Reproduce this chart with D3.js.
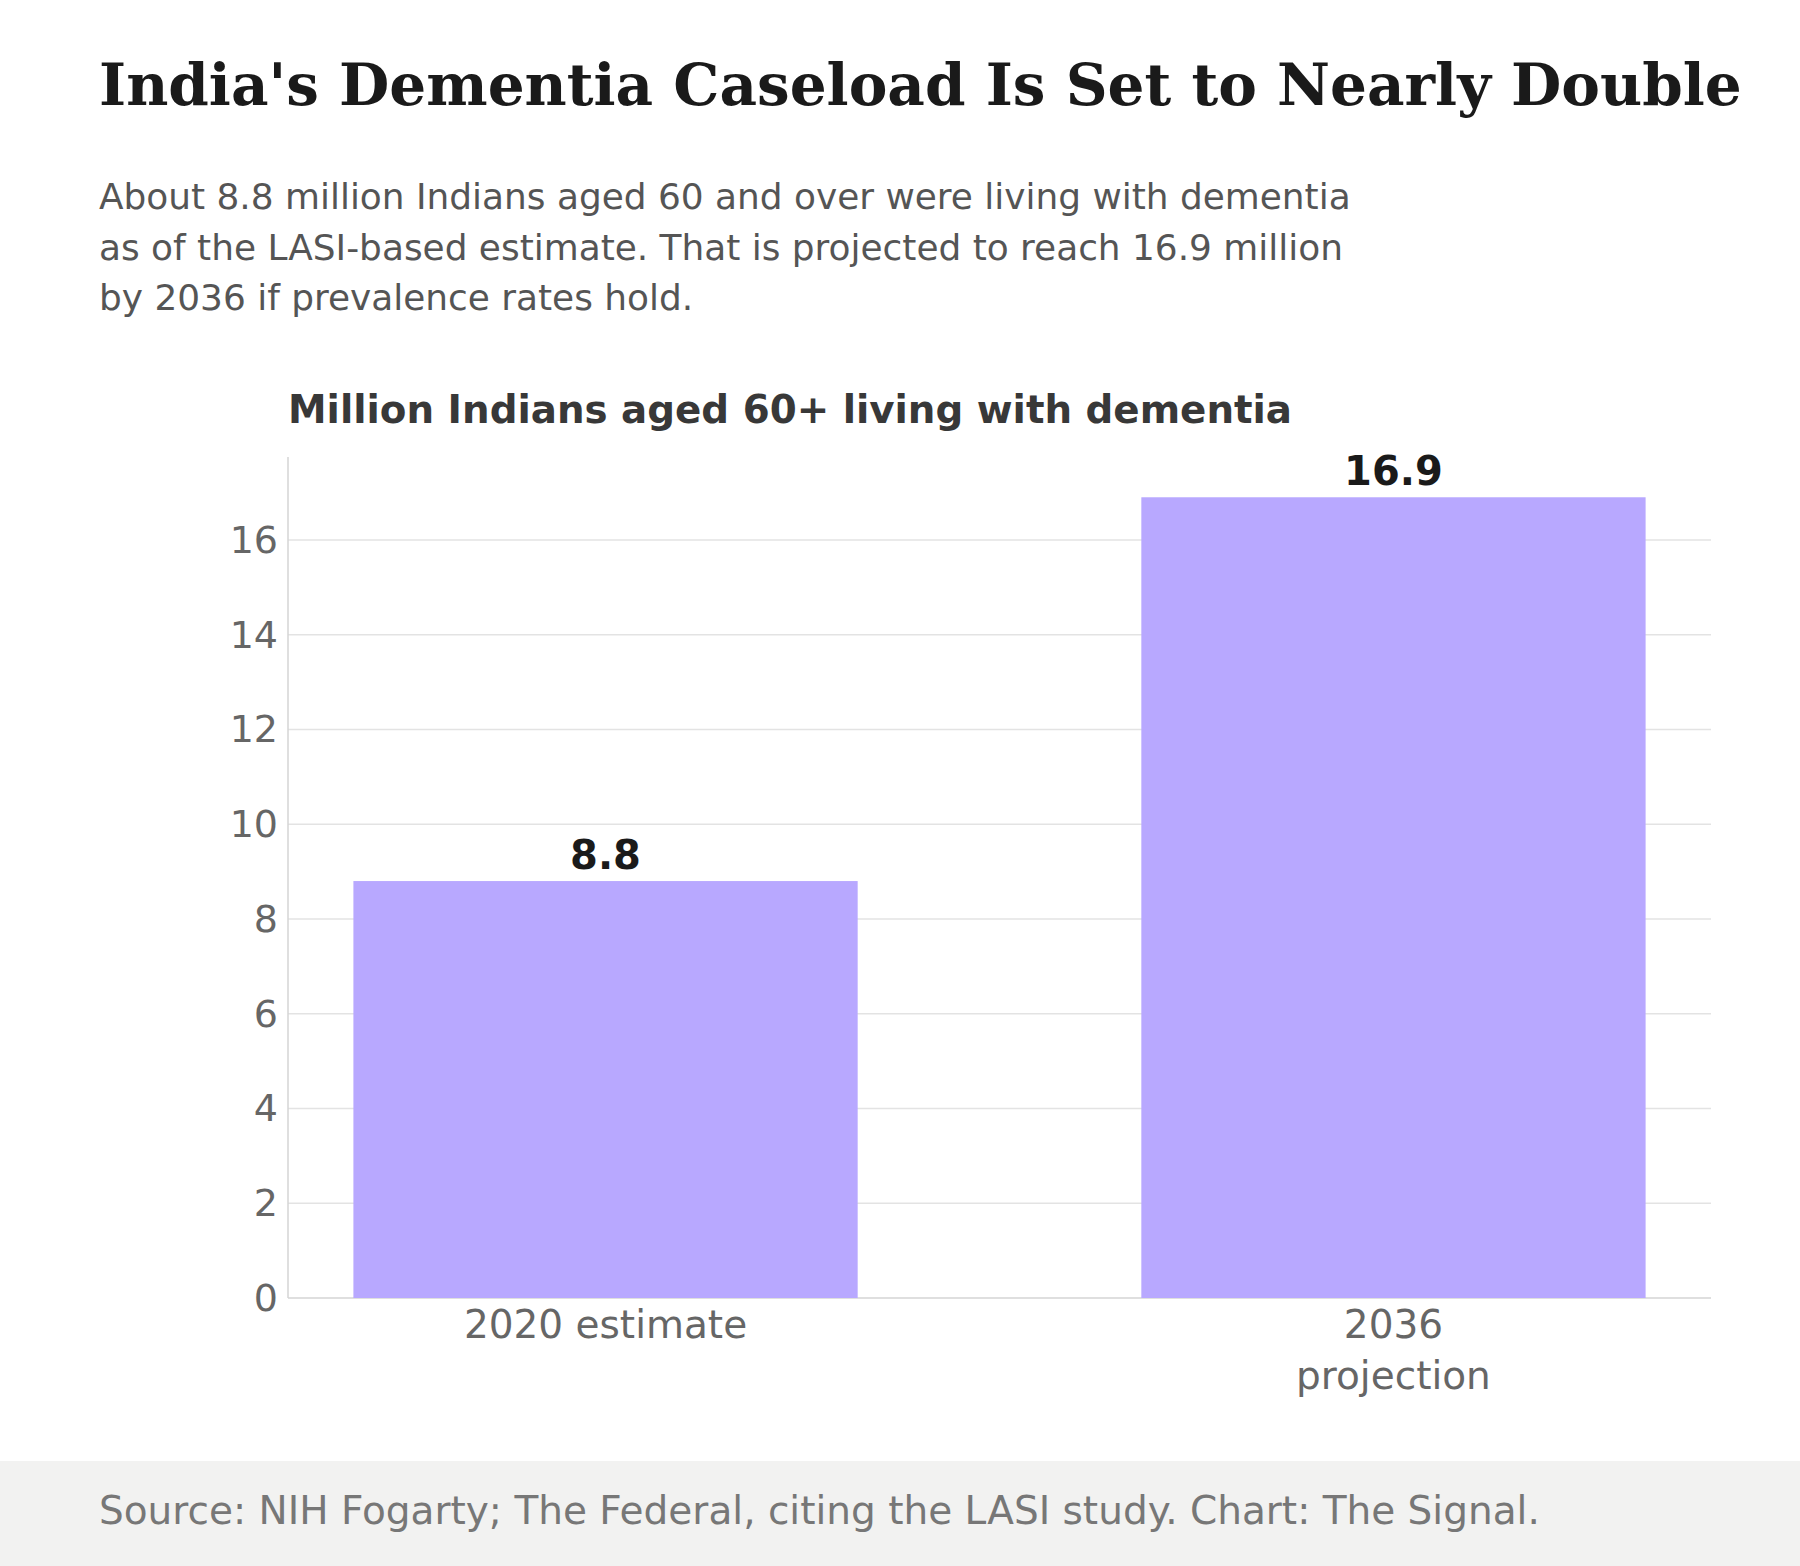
<!DOCTYPE html>
<html><head><meta charset="utf-8">
<script src="https://cdn.jsdelivr.net/npm/d3@7"></script>
<style>body{margin:0;background:#fff}svg{display:block}</style>
</head><body>
<svg id="chart" width="1800" height="1566"></svg>
<script>
var categories = [["2020 estimate"], ["2036", "projection"]];
var values = [8.8, 16.9];
var valueLabels = ["8.8", "16.9"];
var yTicks = [0, 2, 4, 6, 8, 10, 12, 14, 16];
var subtitle = ["About 8.8 million Indians aged 60 and over were living with dementia",
  "as of the LASI-based estimate. That is projected to reach 16.9 million",
  "by 2036 if prevalence rates hold."];

var svg = d3.select("#chart");
var sans = "DejaVu Sans, sans-serif";
var plotL = 288, plotR = 1711, plotT = 457, plotB = 1298;

svg.append("text").attr("x", 99).attr("y", 105)
  .style("font-family", "DejaVu Serif, serif").style("font-weight", "bold")
  .style("font-size", "58px").style("fill", "#1a1a1a")
  .text("India's Dementia Caseload Is Set to Nearly Double");

svg.selectAll(".sub").data(subtitle).enter().append("text")
  .attr("x", 99).attr("y", function(d, i){ return 209 + i * 50.5; })
  .style("font-family", sans).style("font-size", "35.9px").style("fill", "#555")
  .text(function(d){ return d; });

svg.append("text").attr("x", plotL).attr("y", 423)
  .style("font-family", sans).style("font-weight", "bold")
  .style("font-size", "38.8px").style("fill", "#383838")
  .text("Million Indians aged 60+ living with dementia");

var x = d3.scaleBand().domain(d3.range(values.length)).range([plotL, plotR])
  .paddingInner(0.36).paddingOuter(0.083);
var y = d3.scaleLinear().domain([0, 17.75]).range([plotB, plotT]);

svg.selectAll(".grid").data(yTicks.slice(1)).enter().append("line")
  .attr("x1", plotL).attr("x2", plotR)
  .attr("y1", function(d){ return y(d); }).attr("y2", function(d){ return y(d); })
  .style("stroke", "#e3e3e3").style("stroke-width", 1.5);

svg.append("line").attr("x1", plotL).attr("x2", plotL).attr("y1", plotT).attr("y2", plotB)
  .style("stroke", "#d5d5d5").style("stroke-width", 1.5);
svg.append("line").attr("x1", plotL).attr("x2", plotR).attr("y1", plotB).attr("y2", plotB)
  .style("stroke", "#d5d5d5").style("stroke-width", 1.5);

svg.selectAll(".yt").data(yTicks).enter().append("text")
  .attr("x", plotL - 10).attr("y", function(d){ return y(d) + 13; })
  .attr("text-anchor", "end")
  .style("font-family", sans).style("font-size", "38px").style("fill", "#666")
  .text(function(d){ return d; });

svg.selectAll(".bar").data(values).enter().append("rect")
  .attr("x", function(d, i){ return x(i); }).attr("width", x.bandwidth())
  .attr("y", function(d){ return y(d); })
  .attr("height", function(d){ return plotB - y(d); })
  .style("fill", "#b8a8ff");

svg.selectAll(".vl").data(values).enter().append("text")
  .attr("x", function(d, i){ return x(i) + x.bandwidth() / 2; })
  .attr("y", function(d){ return y(d) - 12; })
  .attr("text-anchor", "middle")
  .style("font-family", sans).style("font-weight", "bold")
  .style("font-size", "40px").style("fill", "#1a1a1a")
  .text(function(d, i){ return valueLabels[i]; });

categories.forEach(function(lines, i){
  svg.append("g").selectAll("text").data(lines).enter().append("text")
    .attr("x", x(i) + x.bandwidth() / 2)
    .attr("y", function(d, j){ return 1338 + j * 51; })
    .attr("text-anchor", "middle")
    .style("font-family", sans).style("font-size", "39px").style("fill", "#666")
    .text(function(d){ return d; });
});

svg.append("rect").attr("x", 0).attr("y", 1461).attr("width", 1800).attr("height", 105)
  .style("fill", "#f2f2f1");
svg.append("text").attr("x", 99).attr("y", 1524)
  .style("font-family", sans).style("font-size", "39px").style("fill", "#777")
  .text("Source: NIH Fogarty; The Federal, citing the LASI study. Chart: The Signal.");
</script>
</body></html>
